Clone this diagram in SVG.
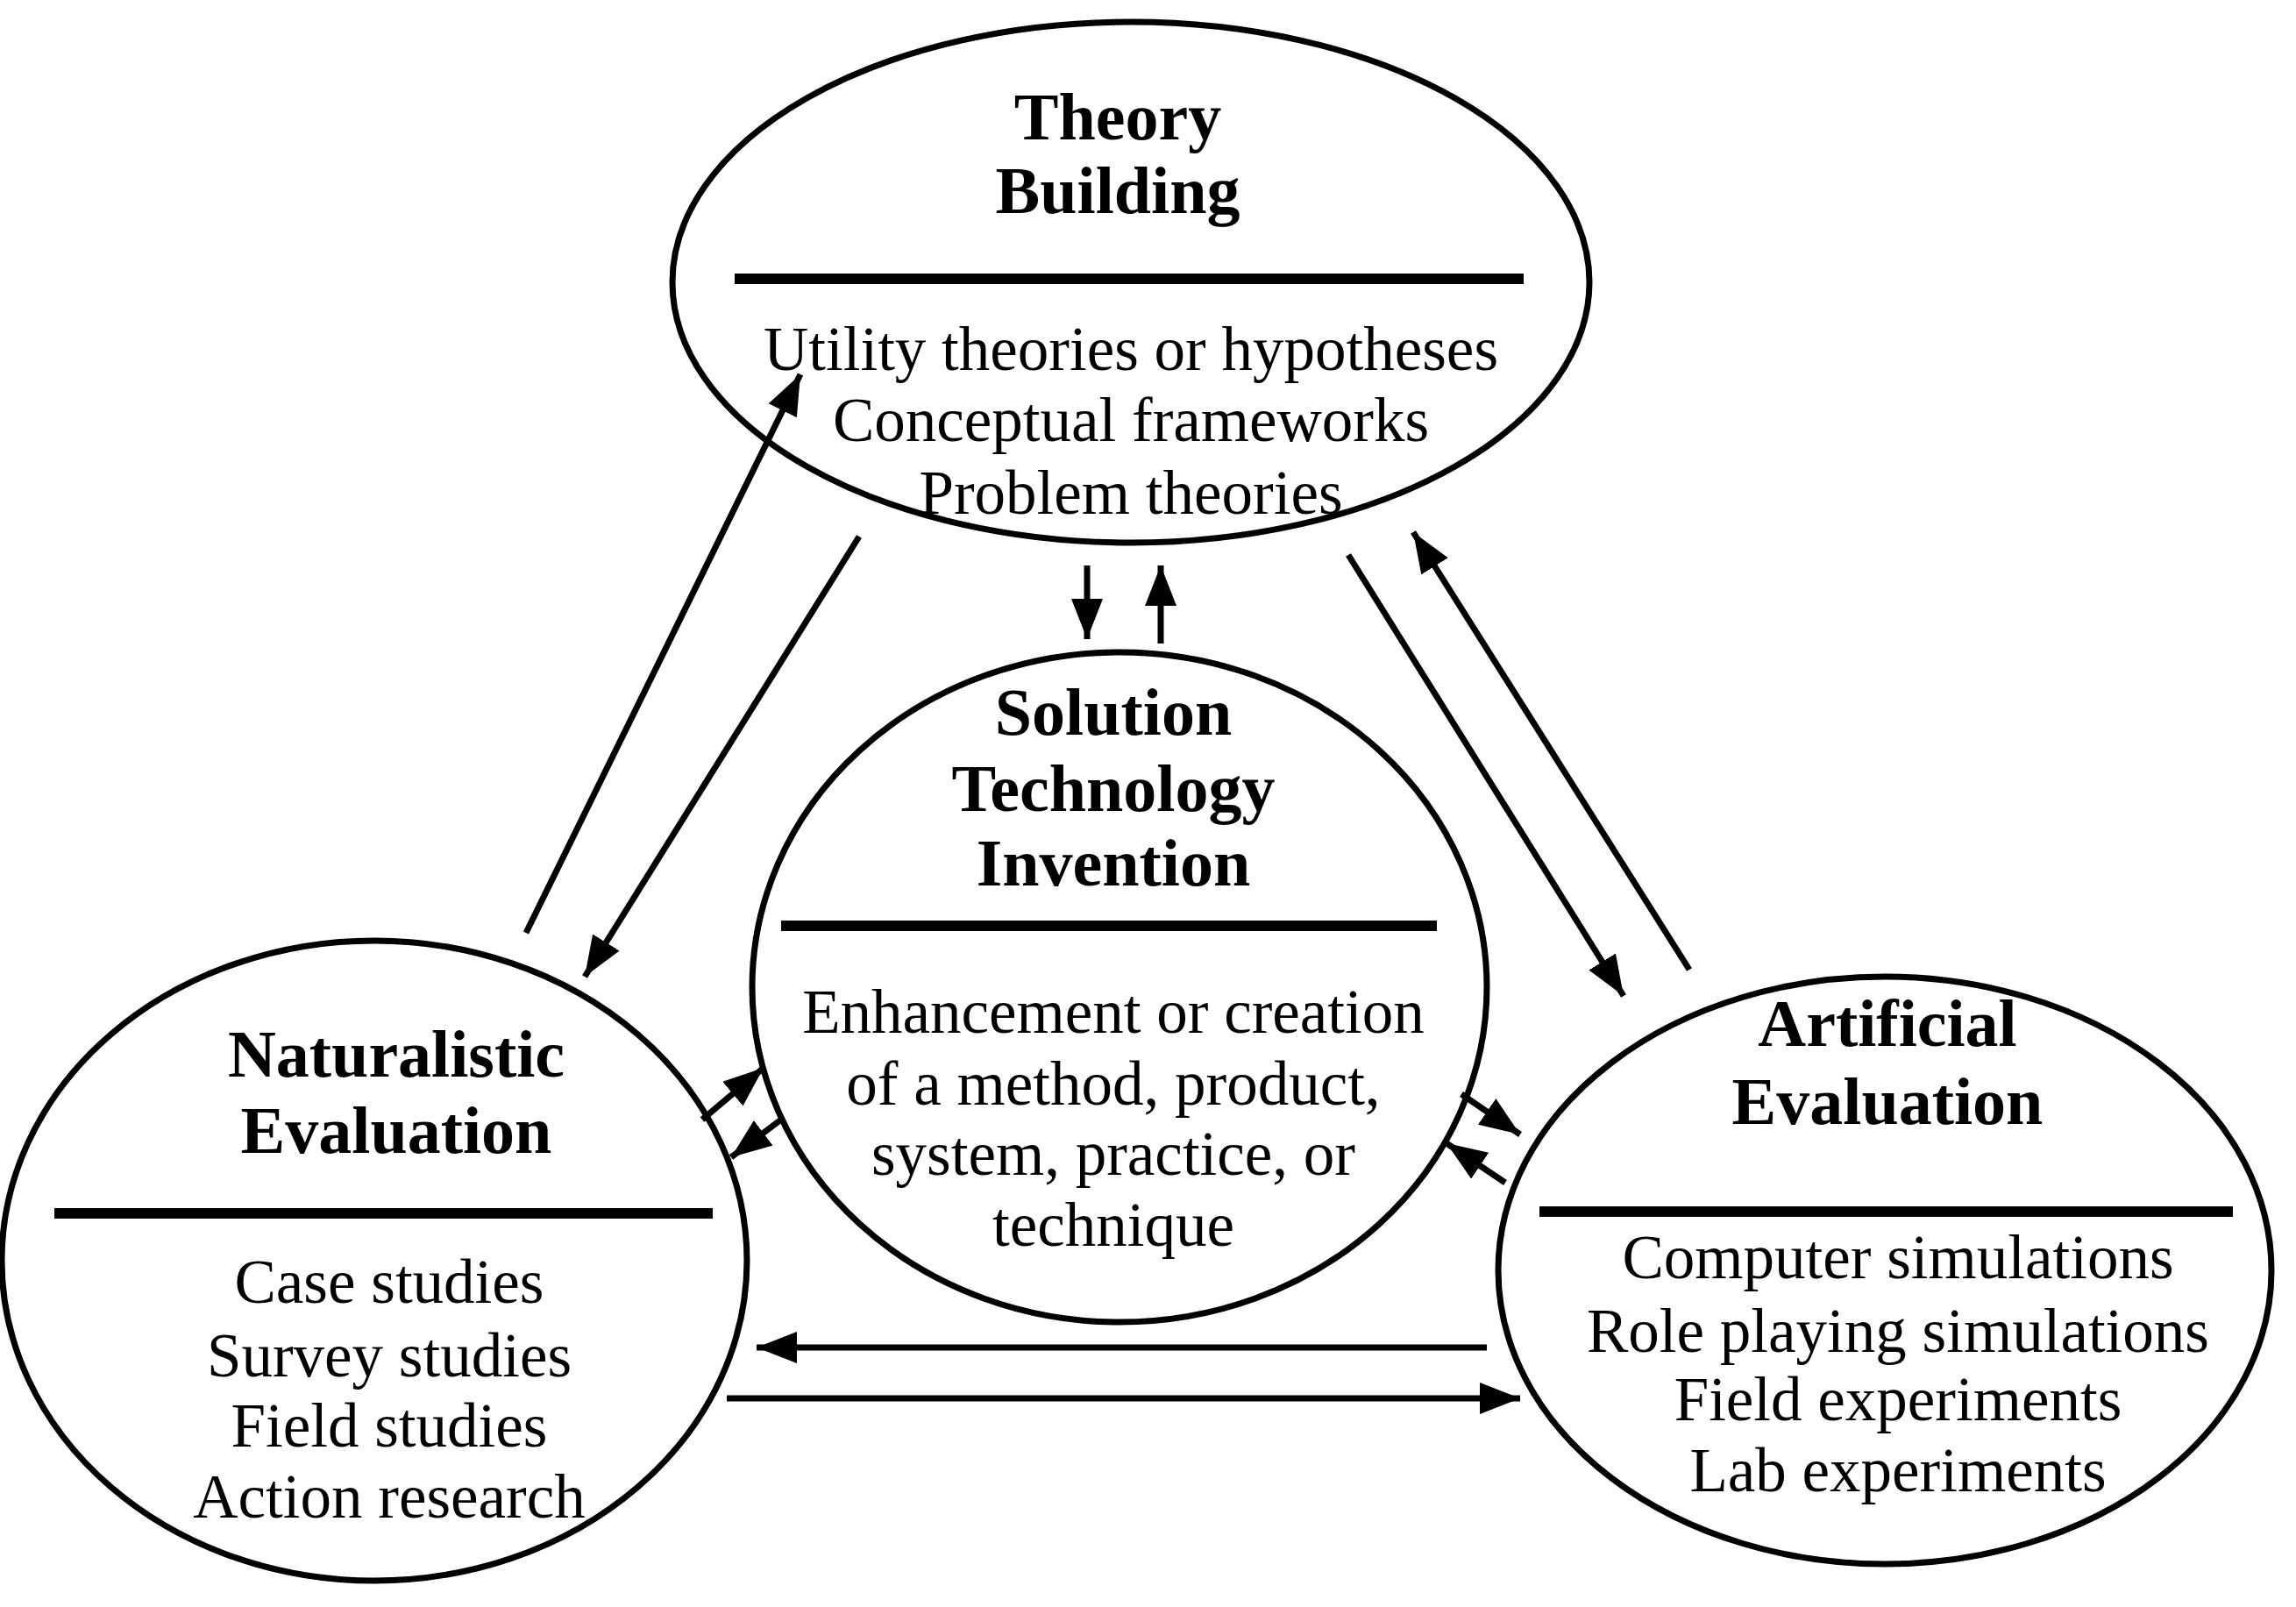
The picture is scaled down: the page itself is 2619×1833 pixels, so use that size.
<svg xmlns="http://www.w3.org/2000/svg" width="2619" height="1833" viewBox="0 0 2619 1833">
<style>
.e{fill:#fff;stroke:#000;stroke-width:7}
.b{font-family:"Liberation Serif",serif;font-weight:bold;font-size:76px;text-anchor:middle}
.t{font-family:"Liberation Serif",serif;font-size:71px;text-anchor:middle}
.r{stroke:#000;stroke-width:12}
.c line{stroke:#000;stroke-width:7;marker-end:url(#a)}
</style>
<defs><marker id="a" markerUnits="userSpaceOnUse" markerWidth="50" markerHeight="38" refX="46" refY="18" orient="auto"><path d="M0,0L46,18L0,36z"/></marker></defs>
<rect width="2619" height="1833" fill="#fff"/>
<g id="theory"><ellipse class="e" cx="1290" cy="322" rx="523" ry="297"/>
<text class="b" x="1275" y="159">Theory</text><text class="b" x="1275" y="243">Building</text>
<line class="r" x1="838" y1="318" x2="1738" y2="318"/>
<text class="t" x="1290" y="422">Utility theories or hypotheses</text>
<text class="t" x="1290" y="503">Conceptual frameworks</text>
<text class="t" x="1290" y="586">Problem theories</text></g>
<g id="solution"><ellipse class="e" cx="1277" cy="1126" rx="419" ry="382"/>
<text class="b" x="1270" y="838">Solution</text><text class="b" x="1270" y="925">Technology</text><text class="b" x="1270" y="1010">Invention</text>
<line class="r" x1="891" y1="1056" x2="1639" y2="1056"/>
<text class="t" x="1270" y="1178">Enhancement or creation</text>
<text class="t" x="1270" y="1260">of a method, product,</text>
<text class="t" x="1270" y="1340">system, practice, or</text>
<text class="t" x="1270" y="1421">technique</text></g>
<g id="naturalistic"><ellipse class="e" cx="427" cy="1438" rx="425" ry="365"/>
<text class="b" x="452" y="1228">Naturalistic</text><text class="b" x="452" y="1315">Evaluation</text>
<line class="r" x1="62" y1="1384" x2="813" y2="1384"/>
<text class="t" x="444" y="1486">Case studies</text>
<text class="t" x="444" y="1570">Survey studies</text>
<text class="t" x="444" y="1650">Field studies</text>
<text class="t" x="444" y="1731">Action research</text></g>
<g id="artificial"><ellipse class="e" cx="2150" cy="1449" rx="441" ry="335"/>
<text class="b" x="2153" y="1193">Artificial</text><text class="b" x="2153" y="1282">Evaluation</text>
<line class="r" x1="1756" y1="1382" x2="2547" y2="1382"/>
<text class="t" x="2165" y="1458">Computer simulations</text>
<text class="t" x="2165" y="1542">Role playing simulations</text>
<text class="t" x="2165" y="1620">Field experiments</text>
<text class="t" x="2165" y="1701">Lab experiments</text></g>
<g id="connectors" class="c">
<line x1="600" y1="1064" x2="913" y2="427"/>
<line x1="980" y1="612" x2="667" y2="1114"/>
<line x1="1240" y1="645" x2="1240" y2="729"/>
<line x1="1324" y1="734" x2="1324" y2="645"/>
<line x1="1538" y1="633" x2="1852" y2="1136"/>
<line x1="1927" y1="1106" x2="1612" y2="607"/>
<line x1="801" y1="1277" x2="871" y2="1218"/>
<line x1="891" y1="1277" x2="834" y2="1320"/>
<line x1="1667" y1="1248" x2="1734" y2="1294"/>
<line x1="1717" y1="1349" x2="1650" y2="1304"/>
<line x1="1696" y1="1537" x2="863" y2="1537"/>
<line x1="829" y1="1595" x2="1734" y2="1595"/>
</g>
</svg>
